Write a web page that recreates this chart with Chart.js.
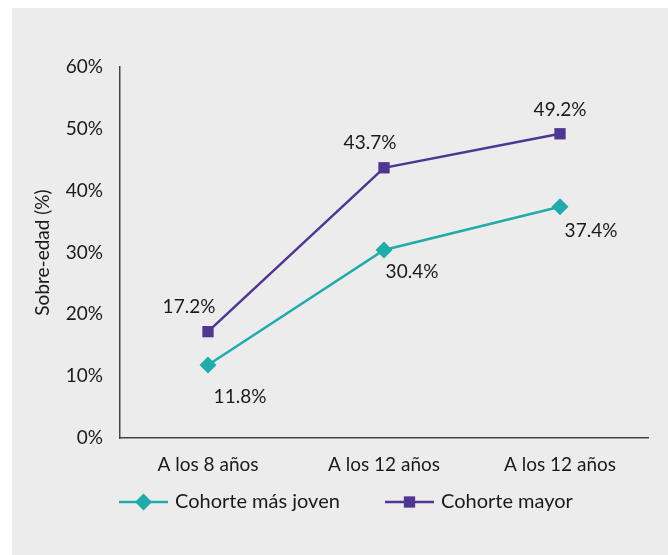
<!DOCTYPE html>
<html>
<head>
<meta charset="utf-8">
<script src="https://cdn.jsdelivr.net/npm/chart.js@4"></script>
<style>
  html, body { margin: 0; padding: 0; background: #fff; }
  #bg { position: absolute; left: 12px; top: 8px; right: 0; bottom: 0; background: #ececec; }
  #wrap { position: absolute; left: 0; top: 0; width: 668px; height: 555px; }
</style>
</head>
<body>
<div id="bg"></div>
<div id="wrap"><canvas id="c" width="668" height="555"></canvas></div>
<script>
// data
const categories = ['A los 8 años', 'A los 12 años', 'A los 12 años'];
const youngValues = [11.8, 30.4, 37.4];
const olderValues = [17.2, 43.7, 49.2];
const seriesNames = ['Cohorte más joven', 'Cohorte mayor'];
const yTicks = [0, 10, 20, 30, 40, 50, 60];

const TEAL = '#21abab';
const PURPLE = '#4f3693';
const FONT = 'Lato, "Open Sans", sans-serif';
const TXT = '#1a1a1a';

// label offsets (Excel-ish placement)
const labelOffsets = [
    [[32, 32], [28, 22], [31, 24]],
    [[-19, -25], [-14, -25], [0, -24]]
];

const labelPlugin = {
    id: 'pointLabels',
    afterDatasetsDraw(chart) {
        const ctx = chart.ctx;
        ctx.save();
        ctx.font = '19px ' + FONT;
        ctx.fillStyle = TXT;
        ctx.textAlign = 'center';
        ctx.textBaseline = 'middle';
        chart.data.datasets.forEach((ds, i) => {
            chart.getDatasetMeta(i).data.forEach((pt, j) => {
                const off = labelOffsets[i][j];
                ctx.fillText(ds.data[j].toFixed(1) + '%', pt.x + off[0], pt.y + off[1]);
            });
        });
        ctx.restore();
    }
};

// legend: line with marker in the middle
const legendPlugin = {
    id: 'lineLegend',
    afterDraw(chart) {
        const ctx = chart.ctx;
        const items = [
            { x: 119, color: TEAL, style: 'rectRot', r: 8.5 },
            { x: 385, color: PURPLE, style: 'rect', r: 8 }
        ];
        const y = 502;
        ctx.save();
        items.forEach((it, i) => {
            ctx.strokeStyle = it.color;
            ctx.lineWidth = 2.5;
            ctx.beginPath();
            ctx.moveTo(it.x, y);
            ctx.lineTo(it.x + 49, y);
            ctx.stroke();
            ctx.fillStyle = it.color;
            Chart.helpers.drawPoint(ctx, { pointStyle: it.style, radius: it.r, borderWidth: 0 }, it.x + 24.5, y);
            ctx.fillStyle = TXT;
            ctx.font = '20px ' + FONT;
            ctx.textAlign = 'left';
            ctx.textBaseline = 'middle';
            ctx.fillText(seriesNames[i], it.x + 56, y);
        });
        ctx.restore();
    }
};

new Chart(document.getElementById('c'), {
    type: 'line',
    data: {
        labels: categories,
        datasets: [{
            label: seriesNames[0],
            data: youngValues,
            borderColor: TEAL,
            backgroundColor: TEAL,
            borderWidth: 2.5,
            pointStyle: 'rectRot',
            pointRadius: 8.5,
            pointBorderWidth: 0,
            tension: 0
        }, {
            label: seriesNames[1],
            data: olderValues,
            borderColor: PURPLE,
            backgroundColor: PURPLE,
            borderWidth: 2.5,
            pointStyle: 'rect',
            pointRadius: 8,
            pointBorderWidth: 0,
            tension: 0
        }]
    },
    options: {
        responsive: false,
        animation: false,
        layout: { padding: { left: 0, top: 67, right: 20, bottom: 0 } },
        plugins: {
            legend: { display: false },
            tooltip: { enabled: false }
        },
        scales: {
            x: {
                offset: true,
                grid: { display: false, drawTicks: false },
                border: { display: true, color: '#444', width: 1.5 },
                ticks: { color: TXT, font: { family: FONT, size: 19 }, padding: 15 },
                afterFit(scale) { scale.height = 117; }
            },
            y: {
                min: 0,
                max: 60,
                afterBuildTicks(scale) { scale.ticks = yTicks.map(v => ({ value: v })); },
                grid: { display: false, drawTicks: false },
                border: { display: true, color: '#444', width: 1.5 },
                ticks: {
                    color: TXT,
                    font: { family: FONT, size: 19 },
                    padding: 17,
                    callback: v => v + '%'
                },
                title: {
                    display: true,
                    text: 'Sobre-edad (%)',
                    color: TXT,
                    font: { family: FONT, size: 19 },
                    padding: { top: 31, bottom: 0 }
                },
                afterFit(scale) { scale.width = 120; }
            }
        }
    },
    plugins: [labelPlugin, legendPlugin]
});
</script>
</body>
</html>
